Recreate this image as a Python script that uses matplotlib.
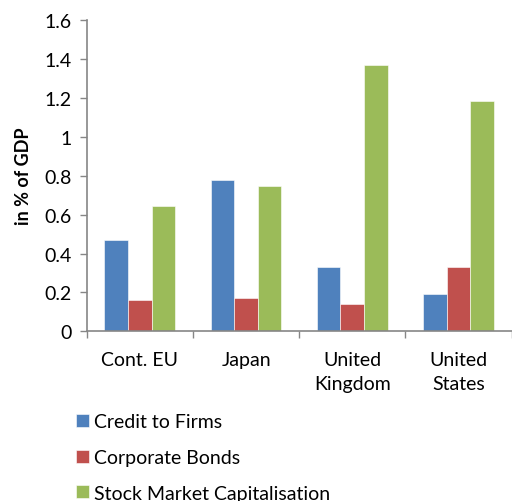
import numpy as np
import matplotlib
matplotlib.use("Agg")
import matplotlib.pyplot as plt

plt.rcParams['font.family'] = ['Lato', 'DejaVu Sans']

# data
countries = ['Cont. EU', 'Japan', 'United\nKingdom', 'United\nStates']
series_names = ['Credit to Firms', 'Corporate Bonds', 'Stock Market Capitalisation']
credit = [0.47, 0.78, 0.33, 0.19]
bonds = [0.16, 0.17, 0.14, 0.33]
stocks = [0.645, 0.745, 1.37, 1.185]
colors = ['#4F81BD', '#C0504D', '#9BBB59']

fig = plt.figure(figsize=(5.12, 5.02), dpi=100)
ax = fig.add_axes([0.1693, 0.338, 0.83, 0.62])

x = np.arange(len(countries))
w = 1 / 4.5
for i, (vals, name) in enumerate(zip([credit, bonds, stocks], series_names)):
    ax.bar(x + (i - 1) * w, vals, width=w, color=colors[i], label=name,
           edgecolor='white', linewidth=0.4)

ax.set_xlim(-0.5, 3.5)
ax.set_ylim(0, 1.6)
ax.set_yticks([0, 0.2, 0.4, 0.6, 0.8, 1, 1.2, 1.4, 1.6])
ax.set_yticklabels(['0', '0.2', '0.4', '0.6', '0.8', '1', '1.2', '1.4', '1.6'])

ax.set_xticks(np.arange(-0.5, 4.0, 1.0))
ax.set_xticklabels([])
ax.set_xticks(x, minor=True)
ax.set_xticklabels(countries, minor=True, linespacing=1.55)
ax.tick_params(axis='x', which='minor', length=0, pad=14)
ax.tick_params(axis='x', which='major', length=5, color='#868686', width=1)
ax.tick_params(axis='y', length=5, color='#868686', width=1, pad=6)
ax.tick_params(which='both', labelsize=14)

for s in ['top', 'right']:
    ax.spines[s].set_visible(False)
for s in ['left', 'bottom']:
    ax.spines[s].set_color('#868686')
    ax.spines[s].set_linewidth(1.2)

ax.set_ylabel('in % of GDP', fontsize=13, fontweight='bold', labelpad=9)

ax.legend(loc='upper left', bbox_to_anchor=(76 / 512, 1 - 414 / 502),
          bbox_transform=fig.transFigure, frameon=False, fontsize=14,
          handlelength=0.65, handleheight=0.65, handletextpad=0.25,
          labelspacing=0.97, borderpad=0, borderaxespad=0)

fig.savefig('out.png', dpi=100)
